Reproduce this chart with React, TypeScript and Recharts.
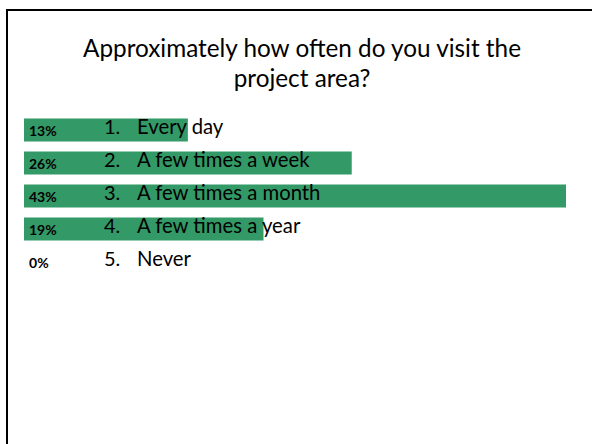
import React from 'react';
import { BarChart, Bar, XAxis, YAxis } from 'recharts';

const TITLE_LINES = ['Approximately how often do you visit the', 'project area?'];
const NUMBERS = ['1.', '2.', '3.', '4.', '5.'];
const ANSWERS = ['Every day', 'A few times a week', 'A few times a month', 'A few times a year', 'Never'];
const PERCENTS = [13, 26, 43, 19, 0];

const BAR_COLOR = '#339966';
const FONT = 'Lato, "Open Sans", sans-serif';

const data = ANSWERS.map((answer, i) => ({
  name: answer,
  num: NUMBERS[i],
  pct: PERCENTS[i],
}));

// y axis tick: "13%" at the left of the row, then "1.   Every day"
const RowTick = (props: any) => {
  const { x, y, payload } = props;
  const row = data.find((d) => d.name === payload.value);
  if (!row) return null;
  return (
    <g>
      <text x={x + 5} y={y + 6} fontFamily={FONT} fontSize={14} fontWeight={700} fill="#000">
        {row.pct}%
      </text>
      <text x={x + 80} y={y + 4} fontFamily={FONT} fontSize={20} fill="#000">
        {row.num}
      </text>
      <text x={x + 113} y={y + 4} fontFamily={FONT} fontSize={20.3} fill="#000">
        {row.name}
      </text>
    </g>
  );
};

export default function App() {
  return (
    <div style={{ position: 'fixed', left: 0, top: 0, width: 592, height: 444, overflow: 'hidden', background: '#fff' }}>
      <div style={{ position: 'absolute', left: 6, top: 9, width: 586, height: 2, background: '#000' }} />
      <div style={{ position: 'absolute', left: 6, top: 9, width: 2, height: 435, background: '#000' }} />
      <div
        style={{
          position: 'absolute',
          left: 0,
          top: 32.5,
          width: 604,
          textAlign: 'center',
          fontFamily: FONT,
          fontSize: 24.3,
          lineHeight: '30px',
          color: '#000',
        }}
      >
        {TITLE_LINES.map((line) => (
          <div key={line}>{line}</div>
        ))}
      </div>
      <div style={{ position: 'absolute', left: 0, top: 0 }}>
        <BarChart
          width={592}
          height={444}
          data={data}
          layout="vertical"
          margin={{ top: 113.5, right: 26, bottom: 165.5, left: 23 }}
          barCategoryGap={5}
        >
          <XAxis type="number" domain={[0, 43]} hide />
          <Bar dataKey="pct" fill={BAR_COLOR} isAnimationActive={false} />
          <YAxis
            type="category"
            dataKey="name"
            width={1}
            axisLine={false}
            tickLine={false}
            tickSize={0}
            tickMargin={0}
            tick={RowTick}
            interval={0}
          />
        </BarChart>
      </div>
    </div>
  );
}
